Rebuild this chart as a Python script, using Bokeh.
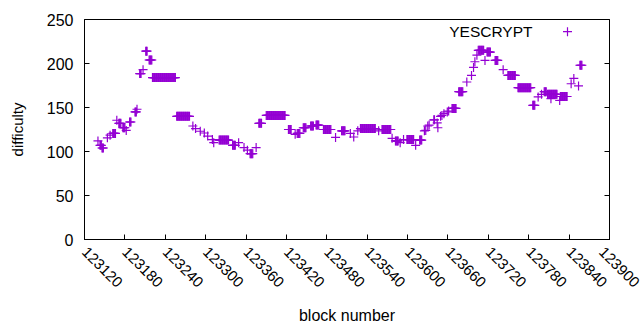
import numpy as np
from bokeh.plotting import figure
from bokeh.models import (FixedTicker, LinearAxis, Range1d, Label, BasicTickFormatter)
from bokeh.embed import file_html
from bokeh.resources import INLINE

run_start = [123140, 123143, 123146, 123154, 123158, 123162, 123168, 123171, 123177, 123182,
             123187, 123195, 123198, 123202, 123207, 123211, 123216, 123221, 123257, 123281,
             123285, 123292, 123298, 123303, 123310, 123312, 123320, 123340, 123349, 123357,
             123362, 123366, 123375, 123379, 123390, 123423, 123433, 123436, 123445, 123456,
             123464, 123475, 123493, 123502, 123515, 123520, 123526, 123530, 123557, 123562,
             123577, 123582, 123589, 123594, 123599, 123612, 123618, 123625, 123627, 123630,
             123632, 123639, 123644, 123645, 123649, 123651, 123654, 123659, 123661, 123666,
             123676, 123688, 123695, 123698, 123700, 123703, 123705, 123715, 123718, 123730,
             123742, 123749, 123764, 123786, 123794, 123799, 123803, 123808, 123813, 123826,
             123827, 123843, 123847, 123854, 123856]
run_end = [123140, 123145, 123148, 123154, 123158, 123166, 123168, 123174, 123180, 123182,
           123189, 123197, 123198, 123204, 123207, 123213, 123220, 123255, 123276, 123281,
           123285, 123292, 123298, 123303, 123310, 123312, 123334, 123344, 123349, 123357,
           123362, 123370, 123375, 123383, 123418, 123427, 123433, 123440, 123449, 123460,
           123468, 123486, 123493, 123507, 123515, 123520, 123526, 123552, 123557, 123575,
           123577, 123586, 123589, 123594, 123609, 123612, 123621, 123625, 123627, 123630,
           123632, 123640, 123644, 123645, 123649, 123651, 123654, 123659, 123661, 123672,
           123682, 123688, 123695, 123698, 123700, 123703, 123713, 123715, 123723, 123734,
           123742, 123760, 123783, 123789, 123794, 123799, 123806, 123822, 123813, 123826,
           123837, 123843, 123847, 123854, 123859]
run_value = [112, 107, 104, 115.5, 118.5, 120.5, 135.5, 132, 127, 124,
             133.5, 145, 148, 188.5, 193, 214, 204, 184, 140, 129,
             126, 123, 121, 117.5, 113.5, 110, 113, 107, 110, 104.5,
             101.5, 97.5, 104.5, 132, 141, 125, 119.5, 120.5, 127, 129,
             130, 125, 116, 123.5, 120.5, 116.5, 123.5, 126, 123.5, 125,
             115, 112, 110, 113.5, 113.5, 107, 113, 123.5, 124, 129,
             130, 136, 132.5, 127, 140, 141, 143, 145, 146, 149,
             168, 179, 186.5, 195.5, 202, 209.5, 215, 203.5, 213, 203.5,
             193, 186.5, 172.5, 152.5, 162, 165, 168, 165, 160, 158,
             162.5, 177, 183, 174.5, 198]

series_name = "YESCRYPT"
x_ticks = list(range(123120, 123901, 60))
y_ticks = [0, 50, 100, 150, 200, 250]

blocks = []
diffs = []
for s, e, v in zip(run_start, run_end, run_value):
    for b in range(s, e + 1):
        blocks.append(b)
        diffs.append(v)

FONT = "Liberation Sans"
COLOR = "#9400D3"
MSIZE = 9
MLW = 1.2
# legend placement (top right, gnuplot style: text then key sample)
LEG_TEXT_X, LEG_Y = 123785.6, 236.2
KEY_X = 123837.6

p = figure(width=640, height=330, output_backend="svg", toolbar_location=None,
           x_range=Range1d(123120, 123900), y_range=Range1d(0, 250),
           min_border_left=84, min_border_right=31, min_border_top=19, min_border_bottom=91)
p.xgrid.visible = False
p.ygrid.visible = False
p.outline_line_color = "black"
p.outline_line_alpha = 1
p.outline_line_width = 1
p.background_fill_color = "white"
p.border_fill_color = "white"

p.scatter(blocks, diffs, marker="cross", size=MSIZE, line_color=COLOR, line_width=MLW)

for ax in (p.xaxis[0], p.yaxis[0]):
    ax.major_tick_in = 5
    ax.major_tick_out = 0
    ax.minor_tick_line_color = None
    ax.axis_line_color = "black"
    ax.major_label_text_font = FONT
    ax.major_label_text_color = "black"
    ax.axis_label_text_font = FONT
    ax.axis_label_text_font_style = "normal"
    ax.axis_label_text_color = "black"

p.xaxis[0].ticker = FixedTicker(ticks=x_ticks)
p.xaxis[0].formatter = BasicTickFormatter(use_scientific=False)
p.yaxis[0].ticker = FixedTicker(ticks=y_ticks)
p.xaxis[0].axis_label = "block number"
p.yaxis[0].axis_label = "difficulty"
p.xaxis[0].major_label_text_font_size = "15px"
p.yaxis[0].major_label_text_font_size = "16px"
p.xaxis[0].axis_label_text_font_size = "16px"
p.yaxis[0].axis_label_text_font_size = "15px"
p.xaxis[0].major_label_orientation = -np.pi / 4
p.xaxis[0].major_label_standoff = 10
p.xaxis[0].axis_label_standoff = 12
p.yaxis[0].major_label_standoff = 11
p.yaxis[0].axis_label_standoff = 18

right = LinearAxis(ticker=FixedTicker(ticks=y_ticks), major_tick_in=5, major_tick_out=0,
                   minor_tick_line_color=None, major_label_text_color=None,
                   major_label_standoff=0, axis_line_color="black")
p.add_layout(right, "right")

p.scatter([KEY_X], [LEG_Y], marker="cross", size=MSIZE, line_color=COLOR, line_width=MLW)
p.add_layout(Label(x=LEG_TEXT_X, y=LEG_Y, text=series_name, text_align="right",
                   text_baseline="middle", text_font=FONT, text_font_size="15.5px",
                   text_color="black"))

open("out.html", "w").write(file_html(p, INLINE))
